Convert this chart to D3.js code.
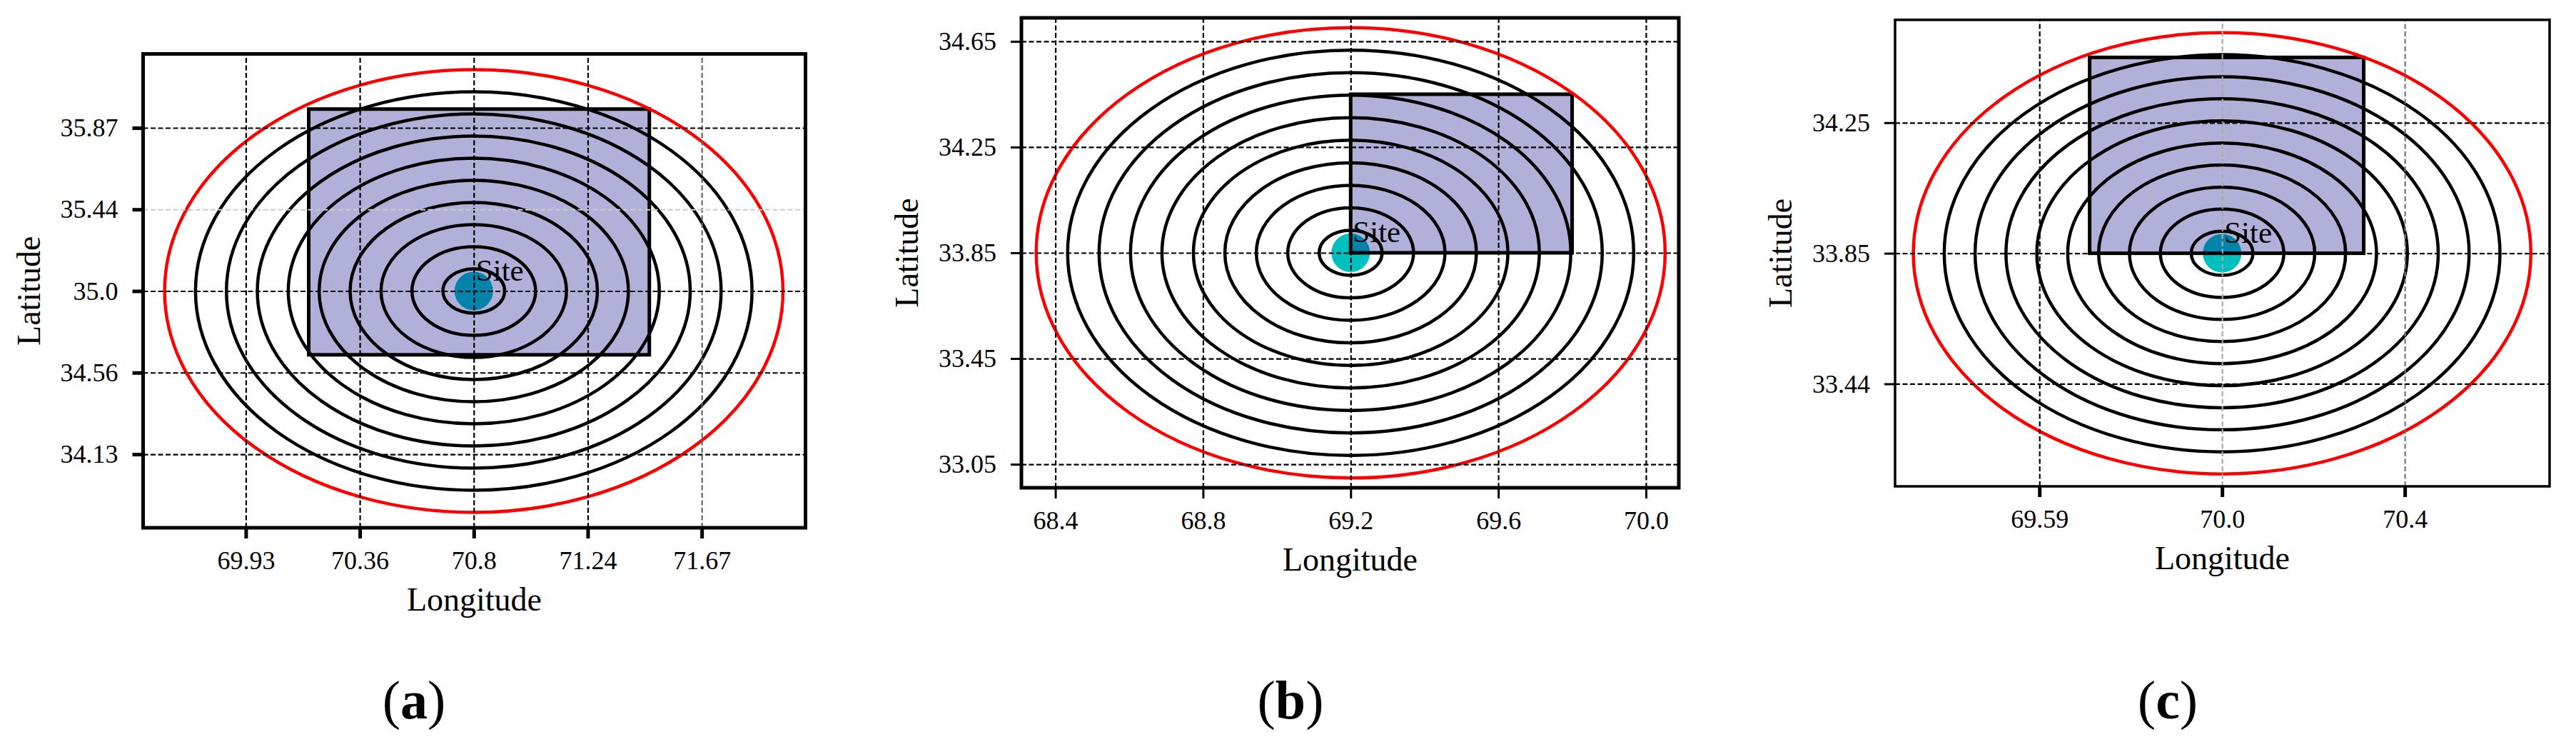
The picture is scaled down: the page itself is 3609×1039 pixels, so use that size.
<!DOCTYPE html>
<html>
<head>
<meta charset="utf-8">
<script src="https://cdn.jsdelivr.net/npm/d3@7"></script>
<style>
  html, body { margin: 0; padding: 0; background: #fff; }
  svg { display: block; }
  text { font-family: "Liberation Serif", serif; fill: #000; }
</style>
</head>
<body>
<div id="chart"></div>
<script>
// values
const panelNames = ['a', 'b', 'c'];
const siteLon = [70.8, 69.2, 70.0];
const siteLat = [35.0, 33.85, 33.85];
const maxRadius = [1.18, 0.852, 0.676]; // red ring, degrees
const ringSteps = [1, 2, 3, 4, 5, 6, 7, 8, 9, 10];

const lonDomains = [[69.538, 72.066], [68.308, 70.089], [69.284, 70.717]];
const latDomains = [[33.738, 36.264], [32.961, 34.739], [33.136, 34.565]];

const lonTicks = [
  [69.93, 70.365, 70.8, 71.235, 71.67],
  [68.4, 68.8, 69.2, 69.6, 70.0],
  [69.6, 70.0, 70.4]
];
const lonLabels = [
  ['69.93', '70.36', '70.8', '71.24', '71.67'],
  ['68.4', '68.8', '69.2', '69.6', '70.0'],
  ['69.59', '70.0', '70.4']
];
const latTicks = [
  [35.87, 35.435, 35.0, 34.565, 34.13],
  [34.65, 34.25, 33.85, 33.45, 33.05],
  [34.25, 33.85, 33.45]
];
const latLabels = [
  ['35.87', '35.44', '35.0', '34.56', '34.13'],
  ['34.65', '34.25', '33.85', '33.45', '33.05'],
  ['34.25', '33.85', '33.44']
];

// source regions [lon0, lon1, lat0, lat1]
const regions = [
  [70.17, 71.47, 34.66, 35.97],
  [69.2, 69.8, 33.85, 34.45],
  [69.71, 70.31, 33.85, 34.45]
];

// layout per panel, pixels
const layout = [
  { left: 200.5, right: 1128.5, top: 75.5, bottom: 739, frameW: 5, xTickW: 5, yTickW: 5, letterX: 580,
    lonGridColor: { 71.67: '#666' }, latGridColor: { 35.435: '#ccc' } },
  { left: 1431, right: 2352, top: 25, bottom: 683, frameW: 5, xTickW: 3, yTickW: 3, letterX: 1808,
    lonGridColor: {}, latGridColor: {} },
  { left: 2655, right: 3572, top: 27.8, bottom: 681, frameW: 3.5, xTickW: 5, yTickW: 3, letterX: 3037,
    lonGridColor: { 70: '#aaa', 70.4: '#777' }, latGridColor: {} }
];

const width = 3609, height = 1039;
const svg = d3.select('#chart').append('svg').attr('width', width).attr('height', height);

panelNames.forEach(function(name, i) {
  let box = layout[i];
  let x = d3.scaleLinear().domain(lonDomains[i]).range([box.left, box.right]);
  let y = d3.scaleLinear().domain(latDomains[i]).range([box.bottom, box.top]);
  let w = box.right - box.left;
  let h = box.bottom - box.top;
  let g = svg.append('g').attr('class', 'panel-' + name);

  // site marker goes under the shaded region
  g.append('circle')
    .attr('cx', x(siteLon[i]))
    .attr('cy', y(siteLat[i]))
    .attr('r', 27)
    .attr('fill', '#00bfbf');

  let reg = regions[i];
  g.append('rect')
    .attr('x', x(reg[0]))
    .attr('y', y(reg[3]))
    .attr('width', x(reg[1]) - x(reg[0]))
    .attr('height', y(reg[2]) - y(reg[3]))
    .attr('fill', '#000080')
    .attr('fill-opacity', 0.31);
  g.append('rect')
    .attr('x', x(reg[0]))
    .attr('y', y(reg[3]))
    .attr('width', x(reg[1]) - x(reg[0]))
    .attr('height', y(reg[2]) - y(reg[3]))
    .attr('fill', 'none')
    .attr('stroke', '#000')
    .attr('stroke-width', 5);

  // distance rings, the last one is red
  g.selectAll('ellipse.ring')
    .data(ringSteps)
    .join('ellipse')
    .attr('class', 'ring')
    .attr('cx', x(siteLon[i]))
    .attr('cy', y(siteLat[i]))
    .attr('rx', d => x(siteLon[i] + maxRadius[i] * d / 10) - x(siteLon[i]))
    .attr('ry', d => y(siteLat[i]) - y(siteLat[i] + maxRadius[i] * d / 10))
    .attr('fill', 'none')
    .attr('stroke', d => d === 10 ? '#f00' : '#000')
    .attr('stroke-width', 4.5);

  // grid lines
  let xGrid = g.append('g')
    .attr('transform', 'translate(0,' + box.bottom + ')')
    .call(d3.axisBottom(x).tickValues(lonTicks[i]).tickSize(-h).tickFormat(''));
  xGrid.select('.domain').remove();
  xGrid.selectAll('line')
    .attr('stroke', d => box.lonGridColor[d] || '#000')
    .attr('stroke-width', 2.2)
    .attr('stroke-dasharray', '7,3.5');

  let yGrid = g.append('g')
    .attr('transform', 'translate(' + box.left + ',0)')
    .call(d3.axisLeft(y).tickValues(latTicks[i]).tickSize(-w).tickFormat(''));
  yGrid.select('.domain').remove();
  yGrid.selectAll('line')
    .attr('stroke', d => box.latGridColor[d] || '#000')
    .attr('stroke-width', 2.2)
    .attr('stroke-dasharray', '7,3.5');

  // axes
  let xAxis = g.append('g')
    .attr('transform', 'translate(0,' + box.bottom + ')')
    .call(d3.axisBottom(x).tickValues(lonTicks[i]).tickSize(15).tickPadding(17)
      .tickFormat((d, k) => lonLabels[i][k]));
  xAxis.select('.domain').remove();
  xAxis.selectAll('line').attr('stroke', '#000').attr('stroke-width', box.xTickW);
  xAxis.selectAll('text').attr('font-size', 36).attr('font-family', '"Liberation Serif", serif');

  let yAxis = g.append('g')
    .attr('transform', 'translate(' + box.left + ',0)')
    .call(d3.axisLeft(y).tickValues(latTicks[i]).tickSize(15).tickPadding(20)
      .tickFormat((d, k) => latLabels[i][k]));
  yAxis.select('.domain').remove();
  yAxis.selectAll('line').attr('stroke', '#000').attr('stroke-width', box.yTickW);
  yAxis.selectAll('text').attr('font-size', 36).attr('font-family', '"Liberation Serif", serif');

  // frame
  g.append('rect')
    .attr('x', box.left)
    .attr('y', box.top)
    .attr('width', w)
    .attr('height', h)
    .attr('fill', 'none')
    .attr('stroke', '#000')
    .attr('stroke-width', box.frameW);

  g.append('text')
    .attr('x', x(siteLon[i]) + 3)
    .attr('y', y(siteLat[i]) - 15)
    .attr('font-size', 43)
    .text('Site');

  g.append('text')
    .attr('x', (box.left + box.right) / 2)
    .attr('y', box.bottom + 116)
    .attr('text-anchor', 'middle')
    .attr('font-size', 46)
    .text('Longitude');

  g.append('text')
    .attr('transform', 'translate(' + (box.left - 145) + ',' + (box.top + box.bottom) / 2 + ') rotate(-90)')
    .attr('text-anchor', 'middle')
    .attr('font-size', 46)
    .text('Latitude');

  let letter = g.append('text')
    .attr('x', box.letterX)
    .attr('y', 1006)
    .attr('text-anchor', 'middle')
    .attr('font-size', 76);
  letter.append('tspan').text('(');
  letter.append('tspan').attr('font-weight', 'bold').text(name);
  letter.append('tspan').text(')');
});
</script>
</body>
</html>
